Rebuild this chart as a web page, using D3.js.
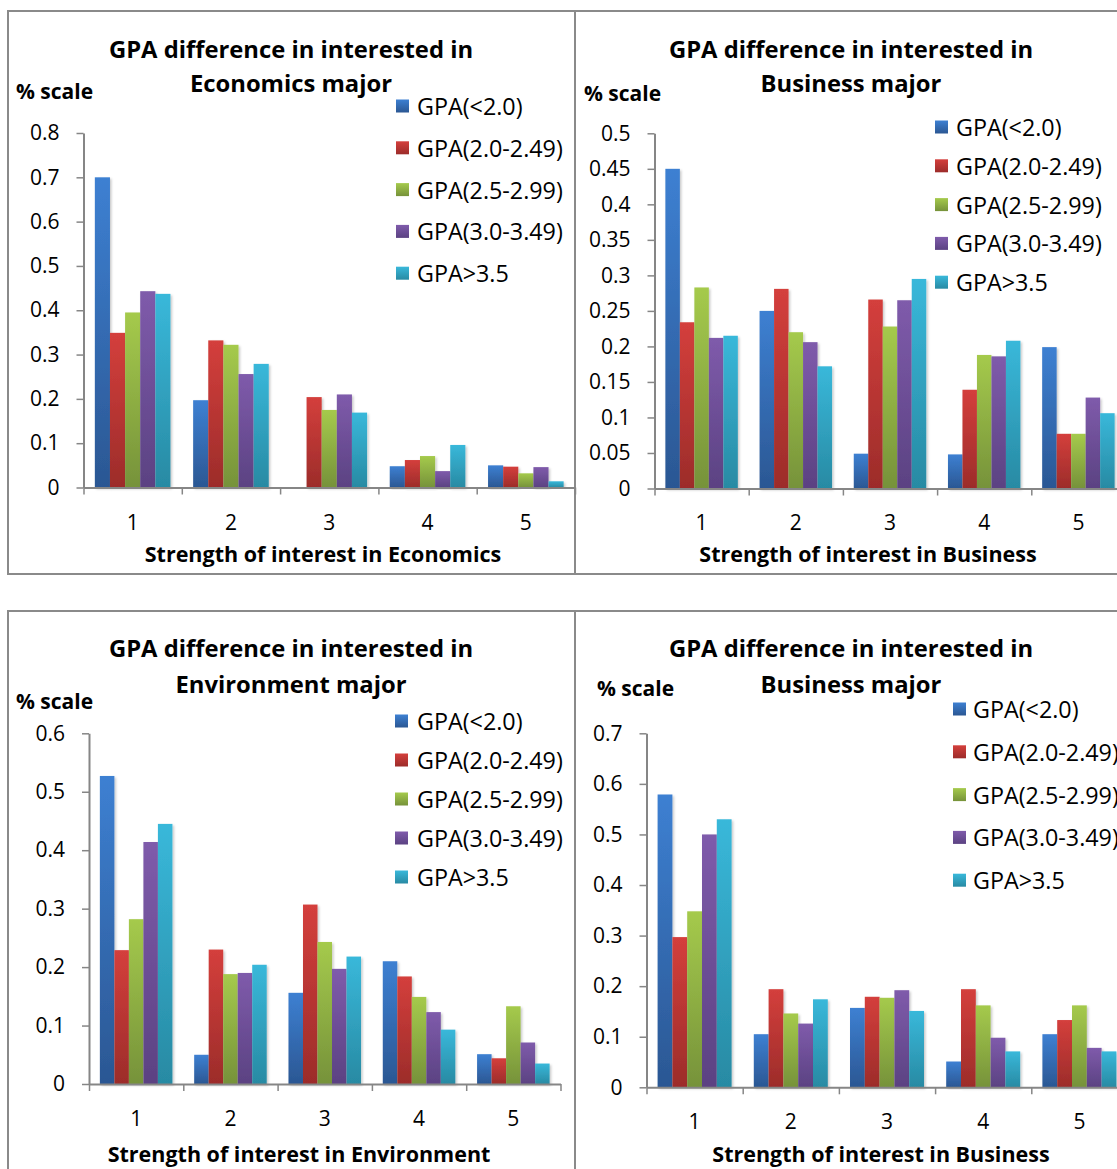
<!DOCTYPE html>
<html>
<head>
<meta charset="utf-8">
<script src="https://cdn.jsdelivr.net/npm/d3@7/dist/d3.min.js"></script>
<style>
  html, body { margin: 0; padding: 0; background: #fff; }
  svg { display: block; }
  text { font-family: "Open Sans", Lato, "Liberation Sans", sans-serif; fill: #000; }
</style>
</head>
<body>
<svg id="chart" width="1117" height="1169"></svg>
<script>
// Strength-of-interest levels shown on every x axis
const categories = ["1", "2", "3", "4", "5"];

// GPA bands (one bar series each)
const seriesNames = ["GPA(<2.0)", "GPA(2.0-2.49)", "GPA(2.5-2.99)", "GPA(3.0-3.49)", "GPA>3.5"];

// Share of students per GPA band, one row per interest level (series order as above)
const economicsValues = [
  [0.700, 0.349, 0.395, 0.443, 0.437],
  [0.197, 0.332, 0.322, 0.256, 0.279],
  [0.000, 0.204, 0.175, 0.210, 0.169],
  [0.048, 0.062, 0.071, 0.037, 0.096],
  [0.050, 0.047, 0.032, 0.046, 0.014]
];
const businessValuesA = [
  [0.450, 0.234, 0.283, 0.212, 0.215],
  [0.250, 0.281, 0.220, 0.206, 0.172],
  [0.049, 0.266, 0.228, 0.265, 0.295],
  [0.048, 0.139, 0.188, 0.186, 0.208],
  [0.199, 0.077, 0.077, 0.128, 0.106]
];
const environmentValues = [
  [0.527, 0.229, 0.282, 0.414, 0.445],
  [0.050, 0.230, 0.188, 0.190, 0.204],
  [0.156, 0.307, 0.243, 0.197, 0.218],
  [0.210, 0.184, 0.149, 0.123, 0.093],
  [0.051, 0.044, 0.133, 0.071, 0.035]
];
const businessValuesB = [
  [0.579, 0.297, 0.348, 0.500, 0.530],
  [0.105, 0.194, 0.146, 0.126, 0.174],
  [0.157, 0.179, 0.177, 0.192, 0.151],
  [0.051, 0.194, 0.162, 0.098, 0.071],
  [0.105, 0.133, 0.162, 0.078, 0.071]
];

// Y tick values for each chart
const economicsTicks = [0, 0.1, 0.2, 0.3, 0.4, 0.5, 0.6, 0.7, 0.8];
const businessTicksA = [0, 0.05, 0.1, 0.15, 0.2, 0.25, 0.3, 0.35, 0.4, 0.45, 0.5];
const environmentTicks = [0, 0.1, 0.2, 0.3, 0.4, 0.5, 0.6];
const businessTicksB = [0, 0.1, 0.2, 0.3, 0.4, 0.5, 0.6, 0.7];

// Titles
const economicsTitle = ["GPA difference in interested in", "Economics major"];
const businessTitle = ["GPA difference in interested in", "Business major"];
const environmentTitle = ["GPA difference in interested in", "Environment major"];
const economicsXTitle = "Strength of interest in Economics";
const businessXTitle = "Strength of interest in Business";
const environmentXTitle = "Strength of interest in Environment";
const yTitle = "% scale";

// Office-style fills: lighter at the top, darker at the bottom
const fillStops = [
  ["#3d80d2", "#2b5793"],
  ["#d43f3c", "#9c2c2a"],
  ["#a5ca4c", "#76923a"],
  ["#7f5bab", "#5b4282"],
  ["#39b8da", "#288aa3"]
];

const svg = d3.select("#chart");
const defs = svg.append("defs");

fillStops.forEach((c, i) => {
  const g = defs.append("linearGradient")
    .attr("id", "fill" + i)
    .attr("x1", 0).attr("y1", 0).attr("x2", 0).attr("y2", 1);
  g.append("stop").attr("offset", "0%").attr("stop-color", c[0]);
  g.append("stop").attr("offset", "100%").attr("stop-color", c[1]);
});

const shadow = defs.append("filter").attr("id", "barShadow")
  .attr("x", "-20%").attr("y", "-5%").attr("width", "150%").attr("height", "115%");
shadow.append("feDropShadow")
  .attr("dx", 1.5).attr("dy", 1.5).attr("stdDeviation", 1.2)
  .attr("flood-color", "#000").attr("flood-opacity", 0.22);

svg.append("rect").attr("width", 1117).attr("height", 1169).attr("fill", "#fff");

// Panel frames
const frameColor = "#8a8a8a";
const frames = svg.append("g").attr("fill", "none").attr("stroke", frameColor).attr("stroke-width", 2);
frames.append("rect").attr("x", 8).attr("y", 11).attr("width", 1200).attr("height", 563);
frames.append("line").attr("x1", 575).attr("x2", 575).attr("y1", 11).attr("y2", 574);
frames.append("rect").attr("x", 8).attr("y", 611).attr("width", 1200).attr("height", 700);
frames.append("line").attr("x1", 575).attr("x2", 575).attr("y1", 611).attr("y2", 1200);

const fmt = d => d === 0 ? "0" : String(+d.toFixed(2));

function drawPanel(p) {
  const g = svg.append("g");

  const y = d3.scaleLinear()
    .domain([0, p.ticks[p.ticks.length - 1]])
    .range([p.y0, p.yTop]);

  const x0 = d3.scaleBand()
    .domain(categories)
    .range([p.xLeft, p.xLeft + 5 * p.band])
    .paddingInner(0).paddingOuter(0);

  const x1 = d3.scaleBand()
    .domain(d3.range(seriesNames.length))
    .range([0, x0.bandwidth()])
    .paddingInner(0).paddingOuter(0.75);

  // Bars
  const groups = g.append("g").selectAll("g")
    .data(p.values)
    .join("g")
    .attr("transform", (d, i) => `translate(${x0(categories[i])},0)`);

  groups.selectAll("rect")
    .data(d => d.map((v, s) => ({ v, s })))
    .join("rect")
    .filter(d => d.v > 0)
    .attr("x", d => x1(d.s))
    .attr("width", x1.bandwidth())
    .attr("y", d => y(d.v))
    .attr("height", d => y(0) - y(d.v))
    .attr("fill", d => `url(#fill${d.s})`)
    .attr("filter", "url(#barShadow)");

  // Y axis
  const yAxis = g.append("g")
    .attr("transform", `translate(${p.xLeft},0)`)
    .call(d3.axisLeft(y).tickValues(p.ticks).tickFormat(fmt).tickSize(7).tickSizeOuter(0).tickPadding(17));
  yAxis.select(".domain").attr("stroke", "#868686").attr("stroke-width", 2);
  yAxis.selectAll(".tick line").attr("stroke", "#868686").attr("stroke-width", 1.5);
  yAxis.selectAll(".tick text")
    .attr("font-family", "'Open Sans', sans-serif").attr("font-size", 21).attr("fill", "#000");

  // X axis: ticks on category boundaries
  const xb = d3.scaleLinear().domain([0, categories.length]).range(x0.range());
  const xAxis = g.append("g")
    .attr("transform", `translate(0,${p.y0})`)
    .call(d3.axisBottom(xb).tickValues(d3.range(categories.length + 1)).tickFormat("").tickSize(7).tickSizeOuter(0));
  xAxis.select(".domain").attr("stroke", "#868686").attr("stroke-width", 2);
  xAxis.selectAll(".tick line").attr("stroke", "#868686").attr("stroke-width", 1.5);

  g.append("g").selectAll("text")
    .data(categories)
    .join("text")
    .attr("x", d => x0(d) + x0.bandwidth() / 2)
    .attr("y", p.y0 + p.catDy)
    .attr("text-anchor", "middle")
    .attr("dominant-baseline", "central")
    .attr("font-size", 21)
    .text(d => d);

  // Titles
  g.append("g").selectAll("text")
    .data(p.title)
    .join("text")
    .attr("x", p.titleX)
    .attr("y", (d, i) => p.titleY + i * p.titleGap)
    .attr("text-anchor", "middle")
    .attr("dominant-baseline", "central")
    .attr("font-weight", "bold")
    .attr("font-size", 23.8)
    .text(d => d);

  g.append("text")
    .attr("x", p.yTitleX).attr("y", p.yTitleY)
    .attr("dominant-baseline", "central")
    .attr("font-weight", "bold").attr("font-size", 21)
    .text(yTitle);

  g.append("text")
    .attr("x", p.xTitleX).attr("y", p.xTitleY)
    .attr("text-anchor", "middle")
    .attr("dominant-baseline", "central")
    .attr("font-weight", "bold").attr("font-size", 21.5)
    .text(p.xTitle);

  // Legend
  const leg = g.append("g").selectAll("g")
    .data(seriesNames)
    .join("g")
    .attr("transform", (d, i) => `translate(${p.legX},${p.legY + i * p.legGap})`);
  leg.append("rect")
    .attr("x", 0).attr("y", -6.5).attr("width", 13).attr("height", 13)
    .attr("fill", (d, i) => `url(#fill${i})`);
  leg.append("text")
    .attr("x", p.legTextDx).attr("y", 0)
    .attr("dominant-baseline", "central")
    .attr("font-size", 23.3)
    .text(d => d);
}

drawPanel({
  values: economicsValues, ticks: economicsTicks,
  xLeft: 83.5, band: 98.3, y0: 487.5, yTop: 133, catDy: 34,
  title: economicsTitle, titleX: 291, titleY: 49, titleGap: 34,
  yTitleX: 16, yTitleY: 91,
  xTitle: economicsXTitle, xTitleX: 323, xTitleY: 553,
  legX: 396, legY: 106, legGap: 41.8, legTextDx: 21
});

drawPanel({
  values: businessValuesA, ticks: businessTicksA,
  xLeft: 654.5, band: 94.2, y0: 488.5, yTop: 133.3, catDy: 33,
  title: businessTitle, titleX: 851, titleY: 49, titleGap: 34,
  yTitleX: 584, yTitleY: 93,
  xTitle: businessXTitle, xTitleX: 868, xTitleY: 553,
  legX: 935, legY: 127, legGap: 38.8, legTextDx: 21
});

drawPanel({
  values: environmentValues, ticks: environmentTicks,
  xLeft: 89, band: 94.3, y0: 1084, yTop: 733.3, catDy: 34,
  title: environmentTitle, titleX: 291, titleY: 648, titleGap: 36,
  yTitleX: 16, yTitleY: 701,
  xTitle: environmentXTitle, xTitleX: 299, xTitleY: 1153,
  legX: 395, legY: 721, legGap: 39, legTextDx: 22
});

drawPanel({
  values: businessValuesB, ticks: businessTicksB,
  xLeft: 646.5, band: 96.2, y0: 1087.3, yTop: 733.3, catDy: 34,
  title: businessTitle, titleX: 851, titleY: 648, titleGap: 36,
  yTitleX: 597, yTitleY: 688,
  xTitle: businessXTitle, xTitleX: 881, xTitleY: 1153,
  legX: 953, legY: 709, legGap: 42.8, legTextDx: 20
});
</script>
</body>
</html>
